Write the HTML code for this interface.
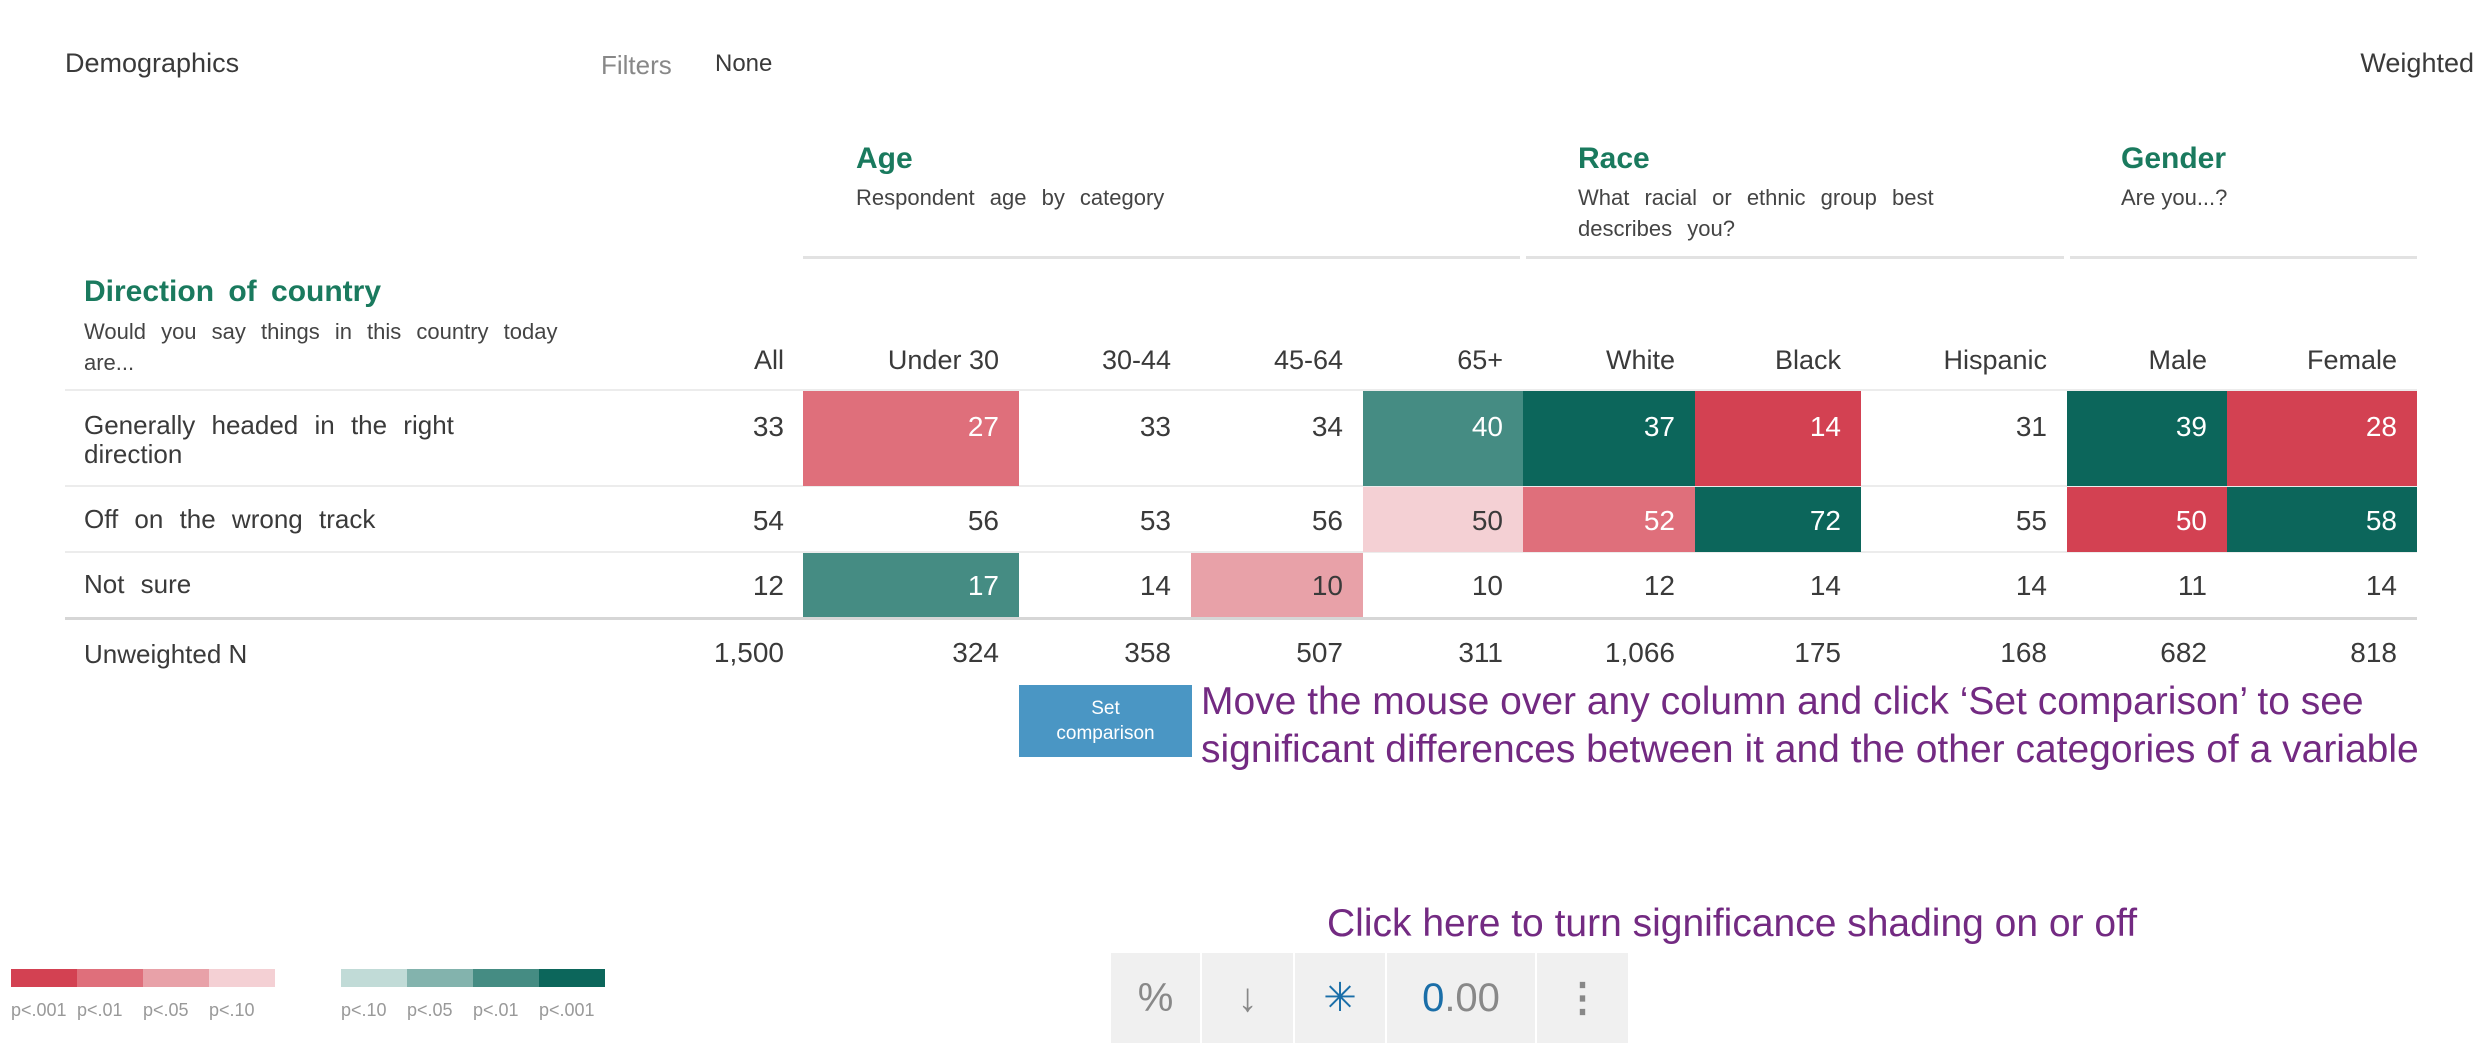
<!DOCTYPE html>
<html><head><meta charset="utf-8"><style>
body{margin:0;width:2487px;height:1043px;background:#fff;position:relative;overflow:hidden;font-family:"Liberation Sans",sans-serif;color:#3a3a3a}
.a{position:absolute;white-space:nowrap}
.g{color:#1a7a5e;font-weight:bold;font-size:30px;word-spacing:6px}
.sub{font-size:22px;color:#444;line-height:31px;white-space:normal;word-spacing:9px}
.hl{position:absolute;height:3px;background:#e2e2e2}
.tb{position:absolute;top:953px;height:90px;background:#f0f0f0;text-align:center;line-height:90px;font-size:40px;color:#888}
.lg{position:absolute;top:969px;height:18px;width:66px}
.ll{position:absolute;top:1000px;font-size:18px;color:#999}
</style></head><body>
<div class="a" style="left:65px;top:48px;font-size:27px">Demographics</div>
<div class="a" style="left:601px;top:50px;font-size:26px;color:#888">Filters</div>
<div class="a" style="left:715px;top:50px;font-size:24px">None</div>
<div class="a" style="right:13px;top:48px;font-size:27px">Weighted</div>

<div class="a g" style="left:856px;top:142px">Age</div>
<div class="a sub" style="left:856px;top:182px;width:500px">Respondent age by category</div>
<div class="a g" style="left:1578px;top:142px">Race</div>
<div class="a sub" style="left:1578px;top:182px;width:500px">What racial or ethnic group best<br>describes you?</div>
<div class="a g" style="left:2121px;top:142px">Gender</div>
<div class="a sub" style="left:2121px;top:182px;width:250px;word-spacing:0">Are you...?</div>
<div class="hl" style="left:803px;width:717px;top:256px"></div>
<div class="hl" style="left:1526px;width:538px;top:256px"></div>
<div class="hl" style="left:2070px;width:347px;top:256px"></div>

<div class="a g" style="left:84px;top:275px">Direction of country</div>
<div class="a sub" style="left:84px;top:316px;width:600px">Would you say things in this country today<br>are...</div>

<div id="tbl"></div>

<div class="a" style="left:1019px;top:685px;width:173px;height:72px;background:#4a96c4;color:#fff;font-size:19px;text-align:center;line-height:25px;padding-top:11px;box-sizing:border-box;white-space:normal">Set<br>comparison</div>
<div class="a" style="left:1201px;top:678px;font-size:39px;color:#732a82;line-height:48px">Move the mouse over any column and click ‘Set comparison’ to see<br>significant differences between it and the other categories of a variable</div>
<div class="a" style="left:1327px;top:902px;font-size:39px;color:#732a82">Click here to turn significance shading on or off</div>

<div class="tb" style="left:1111px;width:89px">%</div>
<div class="tb" style="left:1202px;width:91px">↓</div>
<div class="tb" style="left:1295px;width:90px;color:#1a6ea8">✳</div>
<div class="tb" style="left:1387px;width:148px"><span style="color:#1a6ea8">0</span>.00</div>
<div class="tb" style="left:1537px;width:91px;font-weight:bold">⋮</div>

<div id="legend"></div>

<script>
const columns=["All","Under 30","30-44","45-64","65+","White","Black","Hispanic","Male","Female"];
const rowLabels=["Generally headed in the right|direction","Off on the wrong track","Not sure"];
const row1=[33,27,33,34,40,37,14,31,39,28];
const row2=[54,56,53,56,50,52,72,55,50,58];
const row3=[12,17,14,10,10,12,14,14,11,14];
const sig1=[0,-3,0,0,3,4,-4,0,4,-4];
const sig2=[0,0,0,0,-1,-3,4,0,-4,4];
const sig3=[0,3,0,-2,0,0,0,0,0,0];
const unweighted=["1,500","324","358","507","311","1,066","175","168","682","818"];
const legendLabels=["p<.001","p<.01","p<.05","p<.10","p<.10","p<.05","p<.01","p<.001"];
const legendLevels=[-4,-3,-2,-1,1,2,3,4];

const colX=[[610,804],[803,1019],[1019,1191],[1191,1363],[1363,1523],[1523,1695],[1695,1861],[1861,2067],[2067,2227],[2227,2417]];
const rowY=[[391,486],[487,552],[553,617]];
const colorOf=l=>({"-4":"#d34152","-3":"#df6f7b","-2":"#e8a1a8","-1":"#f4d0d4","1":"#c1dbd7","2":"#83b3ad","3":"#458c83","4":"#0c665b"})[l];
const T=document.getElementById('tbl');
function add(parent,style,text){const d=document.createElement('div');d.className='a';d.style.cssText=style;if(text!==undefined)d.innerHTML=text;parent.appendChild(d);return d;}
[[389,2,'#ececec'],[485,2,'#ececec'],[551,2,'#ececec'],[617,3,'#d6d6d6']].forEach(([y,h,c])=>{
 const d=add(T,`left:65px;width:2352px;top:${y}px;height:${h}px;background:${c}`);
 
 
});
columns.forEach((c,i)=>{
 const d=add(T,`left:${colX[i][0]}px;width:${colX[i][1]-colX[i][0]-20}px;top:345px;font-size:27px;text-align:right`,c);
 
 
});
const rows=[row1,row2,row3],sigs=[sig1,sig2,sig3];
rows.forEach((vals,r)=>{
 const [y0,y1]=rowY[r];
 const lab=rowLabels[r].split('|');
 const ty=r==0?411:y0+(y1-y0)/2-15;
 const ld=add(T,`left:84px;top:${ty}px;font-size:26px;line-height:29px;word-spacing:9px`,lab.join('<br>'));
 
 
 vals.forEach((v,i)=>{
  const l=sigs[r][i];
  if(l){const cell=add(T,`left:${colX[i][0]}px;width:${colX[i][1]-colX[i][0]}px;top:${y0}px;height:${y1-y0}px;background:${colorOf(l)}`);
   
   }
  const t=add(T,`left:${colX[i][0]}px;width:${colX[i][1]-colX[i][0]-20}px;top:${ty}px;font-size:28px;text-align:right;color:${Math.abs(l)>=3?'#fff':'#3a3a3a'}`,v);
  
  
 });
});
const un=add(T,`left:84px;top:639px;font-size:26px`,'Unweighted N');


unweighted.forEach((v,i)=>{
 const d=add(T,`left:${colX[i][0]}px;width:${colX[i][1]-colX[i][0]-20}px;top:637px;font-size:28px;text-align:right`,v);
 
 
});
const L=document.getElementById('legend');
legendLevels.forEach((l,i)=>{
 const x=i<4?11+i*66:341+(i-4)*66;
 const s=document.createElement('div');s.className='lg';s.style.left=x+'px';s.style.background=colorOf(l);
 
 
 L.appendChild(s);
 const t=document.createElement('div');t.className='ll';t.style.left=x+'px';t.textContent=legendLabels[i];
 
 
 L.appendChild(t);
});
</script>
</body></html>
